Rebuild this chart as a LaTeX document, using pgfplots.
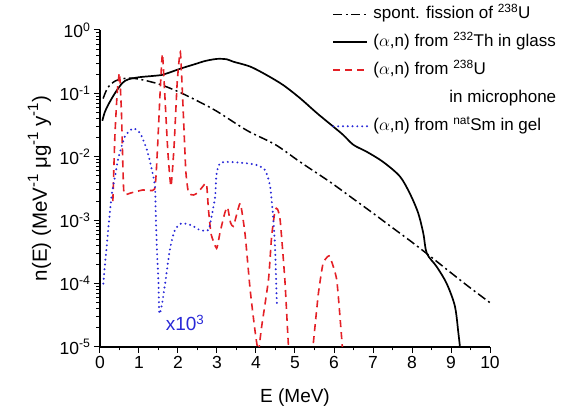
\documentclass[border=0pt]{standalone}
\usepackage{pgfplots}
\pgfplotsset{compat=1.18}
\usepackage{fontspec}
\setmainfont{Liberation Sans}
\definecolor{nred}{RGB}{228,32,38}
\definecolor{nblue}{RGB}{40,40,215}
\newcommand{\sprs}[1]{\raisebox{0.8ex}{\fontsize{15}{15}\selectfont #1}}
\begin{document}
\begin{tikzpicture}
\useasboundingbox (-100pt,-64pt) rectangle (476pt,347pt);
\begin{axis}[
  at={(0pt,0pt)}, anchor=south west,
  scale only axis, width=390pt, height=317pt,
  xmin=0, xmax=10, ymin=1e-5, ymax=1, ymode=log,
  axis x line*=bottom, axis y line*=left,
  axis line style={line width=1.2pt, -},
  xtick={0,1,...,10}, minor x tick num=1,
  ytick={1e-5,1e-4,1e-3,1e-2,1e-1,1},
  yticklabels={10\textsuperscript{-5},10\textsuperscript{-4},10\textsuperscript{-3},10\textsuperscript{-2},10\textsuperscript{-1},10\textsuperscript{0}},
  minor ytick={2e-5,3e-5,4e-5,5e-5,6e-5,7e-5,8e-5,9e-5,
               2e-4,3e-4,4e-4,5e-4,6e-4,7e-4,8e-4,9e-4,
               2e-3,3e-3,4e-3,5e-3,6e-3,7e-3,8e-3,9e-3,
               2e-2,3e-2,4e-2,5e-2,6e-2,7e-2,8e-2,9e-2,
               0.2,0.3,0.4,0.5,0.6,0.7,0.8,0.9},
  tick align=outside, major tick length=6pt, minor tick length=3.5pt,
  tick style={line width=1pt, black},
  /pgf/number format/assume math mode=true,
  ticklabel style={font=\fontsize{17.5}{20}\selectfont},
  xlabel={E (MeV)},
  ylabel={n(E) (MeV\sprs{-1} μg\sprs{-1} y\sprs{-1})},
  xlabel style={font=\fontsize{19}{22}\selectfont, at={(axis description cs:0.5,-0.16)}, anchor=center},
  ylabel style={font=\fontsize{20.5}{23}\selectfont, at={(axis description cs:-0.155,0.5)}, anchor=center},
  legend style={draw=none, fill=none, at={(axis description cs:0.595,1.077)},
    anchor=north west, font=\fontsize{17}{20}\selectfont, inner sep=0pt,
    nodes={text height=13pt, text depth=4pt, inner sep=0pt}, row sep=11pt,
    /tikz/every odd column/.append style={column sep=5pt}},
  legend cell align=left,
  legend image code/.code={\draw[#1] (0pt,0pt) -- (34pt,0pt);},
]
% spontaneous fission of 238U
\addplot[black, line width=1.5pt, smooth, dash pattern=on 9pt off 3.5pt on 2pt off 3.5pt] coordinates {
(0.08,0.083) (0.2,0.123) (0.4,0.158) (0.7,0.174) (1.0,0.168) (1.5,0.141)
(2.0,0.107) (2.5,0.076) (3.0,0.052) (3.77,0.026) (4.5,0.0155) (5.13,0.0083)
(5.9,0.0040) (6.5,0.00216) (7.0,0.00129) (7.5,0.00076) (8.0,0.00045)
(8.5,0.00026) (9.0,0.000148) (9.5,0.000085) (10,0.00005)
};
\addlegendentry{spont. fission of \textsuperscript{238}U}
% (a,n) from 232Th in glass
\addplot[black, line width=1.7pt, smooth, tension=0.5] coordinates {
(0.06,0.037) (0.12,0.050) (0.21,0.066) (0.38,0.10) (0.57,0.145) (0.72,0.166)
(1.0,0.18) (1.25,0.186) (1.58,0.195) (1.75,0.21) (2.1,0.25) (2.44,0.29)
(2.7,0.325) (3.0,0.35) (3.25,0.345) (3.42,0.316) (3.85,0.265) (4.27,0.195)
(4.7,0.135) (5.13,0.084) (5.56,0.049) (5.98,0.030) (6.24,0.022) (6.5,0.0154)
(6.84,0.012) (7.26,0.0083) (7.69,0.0049) (7.95,0.0026) (8.16,0.00129)
(8.29,0.00062) (8.38,0.00030) (8.63,0.000186) (8.89,0.0001) (9.1,0.000044)
(9.19,0.0000165) (9.23,0.00001)
};
\addlegendentry{($\alpha$,n) from \textsuperscript{232}Th in glass}
% (a,n) from 238U in microphone
\addplot[nred, line width=1.6pt, smooth, tension=0.3, dash pattern=on 7pt off 5pt] coordinates {
(0.33,0.0020) (0.38,0.02) (0.44,0.10) (0.50,0.21) (0.55,0.05) (0.59,0.006)
(0.62,0.0026) (0.8,0.0027) (1.1,0.0030) (1.4,0.0031) (1.47,0.012) (1.54,0.1)
(1.6,0.42) (1.66,0.1) (1.74,0.012) (1.82,0.0034) (1.9,0.015) (1.98,0.15)
(2.06,0.45) (2.13,0.06) (2.2,0.006) (2.27,0.0027) (2.4,0.0025) (2.5,0.0027)
(2.62,0.0033) (2.73,0.0038) (2.78,0.0015) (2.85,0.0006) (2.99,0.00036)
(3.08,0.00065) (3.2,0.0013) (3.27,0.0016) (3.35,0.0009) (3.42,0.0008)
(3.5,0.0012) (3.6,0.00185) (3.72,0.0006) (3.85,0.00008) (3.97,0.000019)
(4.06,0.0000085) (4.14,0.00002) (4.32,0.000115) (4.4,0.00055) (4.49,0.00145)
(4.55,0.0015) (4.62,0.001) (4.74,0.000115) (4.83,0.000011) (4.9,0.000004)
(5.4,0.000004) (5.47,0.0000115) (5.6,0.00007) (5.72,0.00021) (5.85,0.00027)
(5.9,0.00026) (6.07,0.000115) (6.2,0.000013) (6.25,0.000005)
};
\addlegendentry{($\alpha$,n) from \textsuperscript{238}U}
\addlegendimage{empty legend}
\addlegendentry{\hspace{76pt}in microphone}
% (a,n) from natSm in gel (x 10^3)
\addplot[nblue, line width=2.2pt, line cap=round, smooth, tension=0.4, dash pattern=on 0pt off 4.8pt] coordinates {
(0.085,0.0001) (0.13,0.00021) (0.17,0.00038) (0.21,0.0007) (0.26,0.00145)
(0.3,0.0025) (0.34,0.0035) (0.4,0.0055) (0.47,0.0095) (0.64,0.021)
(0.85,0.028) (1.03,0.0235) (1.2,0.013) (1.32,0.0066) (1.41,0.0034)
(1.43,0.0012) (1.46,0.00034) (1.5,0.0001) (1.52,0.000034) (1.58,0.000044)
(1.67,0.0001) (1.79,0.00034) (1.92,0.0007) (2.09,0.00089) (2.35,0.00083)
(2.56,0.0007) (2.78,0.0007) (2.86,0.00115) (2.95,0.0023) (2.99,0.0055)
(3.08,0.0079) (3.29,0.0083) (3.76,0.0079) (4.02,0.0074) (4.23,0.0062)
(4.36,0.0035) (4.44,0.0011) (4.49,0.00035) (4.53,0.00006) (4.54,0.000044)
};
\addlegendentry{($\alpha$,n) from \textsuperscript{nat}Sm in gel}
\node[nblue, font=\fontsize{19}{22}\selectfont] at (axis cs:2.18,2.4e-5) {x10\textsuperscript{3}};
\end{axis}
\end{tikzpicture}
\end{document}
